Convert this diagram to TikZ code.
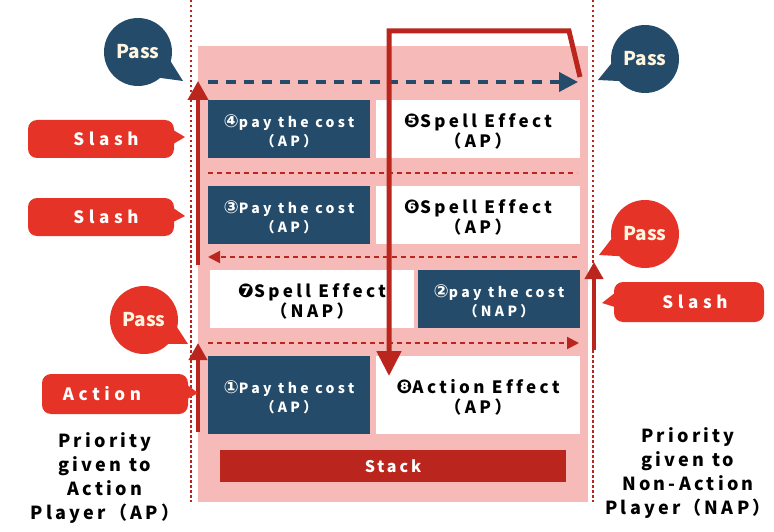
\documentclass[tikz,border=0pt]{standalone}
\usepackage{fontspec}
\usetikzlibrary{arrows.meta,calc}
\setmainfont{Noto Sans CJK JP}
\newfontfamily\lsfont[LetterSpace=18,Ligatures=NoCommon]{Noto Sans CJK JP}
\newfontfamily\lsboxfont[LetterSpace=24,Ligatures=NoCommon]{Noto Sans CJK JP}
\newfontfamily\lseffont[LetterSpace=20,Ligatures=NoCommon]{Noto Sans CJK JP}
\newfontfamily\lstagfont[LetterSpace=27,Ligatures=NoCommon]{Noto Sans CJK JP}
\newfontfamily\symfont{DejaVu Sans}
\newcommand{\csym}[1]{{\symfont\fontsize{18}{18}\selectfont #1}}
\newcommand{\nsym}[1]{{\symfont\fontsize{19}{19}\selectfont #1}}
\definecolor{navy}{HTML}{244B69}
\definecolor{pinkbg}{HTML}{F6BBB8}
\definecolor{bubred}{HTML}{E63328}
\definecolor{darkred}{HTML}{BA261D}
\definecolor{cream}{HTML}{FFF4DE}
\tikzset{
  darkbox/.style={fill=navy, text=white, inner sep=0pt, align=center,
    font=\lsboxfont\bfseries\fontsize{14}{19}\selectfont},
  whitebox/.style={fill=white, text=black, inner sep=0pt, align=center,
    font=\lseffont\bfseries\fontsize{17}{20}\selectfont},
  passbub/.style={circle, minimum size=68pt, inner sep=0pt, text=cream,
    font=\bfseries\fontsize{19}{20}\selectfont},
  tagbub/.style={rounded corners=9pt, fill=bubred, inner sep=0pt, text=white,
    font=\lstagfont\bfseries\fontsize{17}{20}\selectfont},
  prio/.style={align=center, text=black, font=\lsfont\bfseries\fontsize{18}{24}\selectfont},
  dotline/.style={darkred, line width=2pt, dash pattern=on 2.5pt off 2.5pt},
  rowsep/.style={darkred, line width=2pt, dash pattern=on 5pt off 4pt},
}
\begin{document}
\begin{tikzpicture}[x=1pt,y=-1pt]
\useasboundingbox (0,0) rectangle (774,532);
% background
\fill[pinkbg] (198,46) rectangle (588,502);
% dotted separators
\coordinate (lt) at (191,0); \coordinate (lb) at (191,502);
\coordinate (rt) at (593,0); \coordinate (rb) at (593,502);
\draw[dotline] (lt) -- (lb);
\draw[dotline] (rt) -- (rb);
% boxes
\node[darkbox, minimum width=162pt, minimum height=58pt] (b4) at (289,129) {};
\node[darkbox] at ($(b4.center)+(0,2)$) {\csym{④}pay the cost\\（AP）};
\node[whitebox, minimum width=204pt, minimum height=58pt] (b5) at (478,129) {};
\node[whitebox] at ($(b5.center)+(0,2)$) {\nsym{❺}Spell Effect\\（AP）};
\node[darkbox, minimum width=162pt, minimum height=58pt] (b3) at (289,215) {};
\node[darkbox] at ($(b3.center)+(0,2)$) {\csym{③}Pay the cost\\（AP）};
\node[whitebox, minimum width=204pt, minimum height=58pt] (b6) at (478,215) {};
\node[whitebox] at ($(b6.center)+(0,2)$) {\nsym{❻}Spell Effect\\（AP）};
\node[whitebox, minimum width=204pt, minimum height=58pt] (b7) at (312,299) {};
\node[whitebox] at ($(b7.center)+(0,2)$) {\nsym{❼}Spell Effect\\（NAP）};
\node[darkbox, minimum width=162pt, minimum height=58pt] (b2) at (499,299) {};
\node[darkbox] at ($(b2.center)+(0,2)$) {\csym{②}pay the cost\\（NAP）};
\node[darkbox, minimum width=162pt, minimum height=78pt] (b1) at (289,395) {};
\node[darkbox] at ($(b1.center)+(0,2)$) {\csym{①}Pay the cost\\（AP）};
\node[whitebox, minimum width=204pt, minimum height=78pt] (b8) at (478,395) {};
\node[whitebox] at ($(b8.center)+(0,2)$) {\nsym{❽}Action Effect\\（AP）};
\node[fill=darkred, text=white, minimum width=346pt, minimum height=32pt, inner sep=0pt,
  font=\lsfont\bfseries\fontsize{16}{20}\selectfont] (stack) at (393,466) {Stack};
% horizontal dashed lines
\coordinate (h1a) at (208,82); \coordinate (h1b) at (578,82);
\draw[navy, line width=4pt, dash pattern=on 10pt off 8pt, -{Triangle[length=19pt,width=19pt]}] (h1a) -- (h1b);
\coordinate (h2a) at (208,173); \coordinate (h2b) at (577,173);
\draw[rowsep] (h2a) -- (h2b);
\coordinate (h3a) at (577,257); \coordinate (h3b) at (208,257);
\draw[rowsep, -{Triangle[length=12pt,width=12pt]}] (h3a) -- (h3b);
\coordinate (h4a) at (208,343); \coordinate (h4b) at (579,343);
\draw[rowsep, -{Triangle[length=12pt,width=12pt]}] (h4a) -- (h4b);
% thick red vertical arrows
\coordinate (va1) at (198,265); \coordinate (va2) at (198,81);
\draw[darkred, line width=4pt, -{Triangle[length=19pt,width=20pt]}] (va1) -- (va2);
\coordinate (vb1) at (198,432); \coordinate (vb2) at (198,343);
\draw[darkred, line width=4pt, -{Triangle[length=17pt,width=18pt]}] (vb1) -- (vb2);
\coordinate (vc1) at (594,350); \coordinate (vc2) at (594,262);
\draw[darkred, line width=4pt, -{Triangle[length=17pt,width=18pt]}] (vc1) -- (vc2);
% big red path
\coordinate (r0) at (580,77); \coordinate (r1) at (569,31); \coordinate (r2) at (389,31); \coordinate (r3) at (389,376);
\draw[darkred, line width=5pt, -{Triangle[length=25pt,width=24pt]}] (r0) -- (r1) -- (r2) -- (r3);
% Pass bubbles
\node[passbub, fill=navy] (p1) at (138,52) {Pass};
\coordinate (pt1) at (183,81);
\fill[navy] ($(p1.center)!30pt!24:(pt1)$) -- (pt1) -- ($(p1.center)!30pt!-24:(pt1)$) -- cycle;
\node[passbub, fill=navy] (p2) at (645,59) {Pass};
\coordinate (pt2) at (598,80);
\fill[navy] ($(p2.center)!30pt!24:(pt2)$) -- (pt2) -- ($(p2.center)!30pt!-24:(pt2)$) -- cycle;
\node[passbub, fill=bubred] (p3) at (144,320) {Pass};
\coordinate (pt3) at (188,344);
\fill[bubred] ($(p3.center)!30pt!24:(pt3)$) -- (pt3) -- ($(p3.center)!30pt!-24:(pt3)$) -- cycle;
\node[passbub, fill=bubred] (p4) at (645,234) {Pass};
\coordinate (pt4) at (599,255);
\fill[bubred] ($(p4.center)!30pt!24:(pt4)$) -- (pt4) -- ($(p4.center)!30pt!-24:(pt4)$) -- cycle;
% tag bubbles
\node[tagbub, minimum width=146pt, minimum height=38pt] (s1) at (101,139) {};
\node[tagbub, fill=none] at ($(s1.center)+(5,0)$) {Slash};
\coordinate (st1) at (185,137);
\fill[bubred] ($(s1.east)+(-1,-9)$) -- (st1) -- ($(s1.east)+(-1,5)$) -- cycle;
\node[tagbub, minimum width=146pt, minimum height=38pt] (s2) at (101,217) {};
\node[tagbub, fill=none] at ($(s2.center)+(5,0)$) {Slash};
\coordinate (st2) at (185,216);
\fill[bubred] ($(s2.east)+(-1,-9)$) -- (st2) -- ($(s2.east)+(-1,5)$) -- cycle;
\node[tagbub, minimum width=150pt, minimum height=40pt] (s3) at (689,302) {};
\node[tagbub, fill=none] at ($(s3.center)+(6,0)$) {Slash};
\coordinate (st3) at (602,303);
\fill[bubred] ($(s3.west)+(1,-9)$) -- (st3) -- ($(s3.west)+(1,5)$) -- cycle;
\node[tagbub, minimum width=146pt, minimum height=40pt] (act) at (115,394) {};
\node[tagbub, fill=none] at ($(act.center)+(-13,0)$) {Action};
\coordinate (at1) at (198,393);
\fill[bubred] ($(act.east)+(-1,-9)$) -- (at1) -- ($(act.east)+(-1,5)$) -- cycle;
% priority labels
\node[prio] (pl) at (105,478) {Priority\\given to\\Action\\Player（AP）};
\node[prio] (pr) at (688,473) {Priority\\given to\\Non-Action\\Player（NAP）};
\end{tikzpicture}
\end{document}
